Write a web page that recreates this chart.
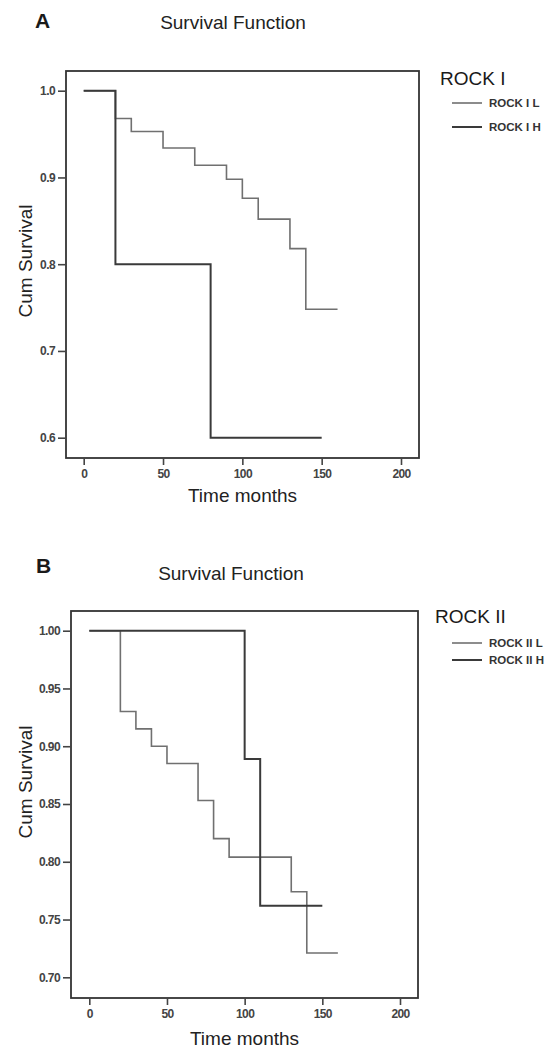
<!DOCTYPE html>
<html>
<head>
<meta charset="utf-8">
<script src="https://cdn.jsdelivr.net/npm/d3@7"></script>
<style>
	body { margin: 0; background: #fff; }
	text { font-family: Arial, 'Liberation Sans', sans-serif; }
</style>
</head>
<body>
<div id="chart"></div>
<script>
// Data

const xTicks = [0, 50, 100, 150, 200];

const rock1Ticks = [0.6, 0.7, 0.8, 0.9, 1.0];
const rock1LowTimes = [0, 20, 30, 50, 70, 90, 100, 110, 130, 140, 160];
const rock1LowSurv = [1.0, 0.968, 0.953, 0.934, 0.914, 0.898, 0.876, 0.852, 0.818, 0.748, 0.748];
const rock1HighTimes = [0, 20, 80, 150];
const rock1HighSurv = [1.0, 0.8, 0.6, 0.6];

const rock2Ticks = [0.7, 0.75, 0.8, 0.85, 0.9, 0.95, 1.0];
const rock2LowTimes = [0, 20, 30, 40, 50, 70, 80, 90, 130, 140, 160];
const rock2LowSurv = [1.0, 0.93, 0.915, 0.9, 0.885, 0.853, 0.82, 0.804, 0.774, 0.721, 0.721];
const rock2HighTimes = [0, 100, 110, 150];
const rock2HighSurv = [1.0, 0.889, 0.762, 0.762];

const svg = d3
	.select('#chart')
	.append('svg')
	.attr('width', 552)
	.attr('height', 1049);

const drawPanel = (p) => {
	// Measurements
	const frame = p.frame;

	// Scales
	const xscale = d3
		.scaleLinear()
		.domain([0, 200])
		.range([p.x0, p.x200]);

	const yscale = d3
		.scaleLinear()
		.domain(p.yDomain)
		.range(p.yRange);

	const g = svg.append('g');

	// Titles
	g.append('text')
		.attr('x', p.letterX)
		.attr('y', p.letterY)
		.attr('font-size', 21)
		.attr('font-weight', 'bold')
		.attr('fill', '#1a1a1a')
		.text(p.letter);

	g.append('text')
		.attr('x', p.titleX)
		.attr('y', p.titleY)
		.attr('text-anchor', 'middle')
		.attr('font-size', 19)
		.attr('fill', '#222')
		.text('Survival Function');

	// Frame
	g.append('rect')
		.attr('x', frame.left)
		.attr('y', frame.top)
		.attr('width', frame.right - frame.left)
		.attr('height', frame.bottom - frame.top)
		.attr('fill', 'none')
		.attr('stroke', '#333')
		.attr('stroke-width', 1.8);

	// Axis
	const leftAxis = d3
		.axisLeft(yscale)
		.tickValues(p.yTicks)
		.tickFormat(d3.format(p.yFormat))
		.tickSize(8)
		.tickPadding(3);

	const bottomAxis = d3
		.axisBottom(xscale)
		.tickValues(xTicks)
		.tickSize(7)
		.tickPadding(4);

	const ya = g
		.append('g')
		.attr('transform', `translate(${frame.left}, 0)`)
		.call(leftAxis);

	const xa = g
		.append('g')
		.attr('transform', `translate(0, ${frame.bottom})`)
		.call(bottomAxis);

	[ya, xa].forEach((a) => {
		a.select('.domain').remove();
		a.selectAll('line').attr('stroke', '#444').attr('stroke-width', 1.6);
		a.selectAll('text')
			.attr('font-size', 12)
			.attr('font-weight', 'bold')
			.attr('letter-spacing', -0.6)
			.attr('fill', '#444')
			.style('font-family', "Arial, 'Liberation Sans', sans-serif");
	});

	g.append('text')
		.attr('x', (frame.left + frame.right) / 2)
		.attr('y', p.xTitleY)
		.attr('text-anchor', 'middle')
		.attr('font-size', 19)
		.attr('fill', '#222')
		.text('Time months');

	g.append('text')
		.attr('transform', `translate(32, ${p.yTitleY}) rotate(-90)`)
		.attr('text-anchor', 'middle')
		.attr('font-size', 19)
		.attr('fill', '#222')
		.text('Cum Survival');

	// Lines
	const line = d3
		.line()
		.x((d) => xscale(d[0]))
		.y((d) => yscale(d[1]))
		.curve(d3.curveStepAfter);

	p.series.forEach((s) => {
		g.append('path')
			.datum(d3.zip(s.times, s.surv))
			.attr('d', line)
			.attr('fill', 'none')
			.attr('stroke', s.color)
			.attr('stroke-width', s.width);
	});

	// Legend
	g.append('text')
		.attr('x', p.legendX)
		.attr('y', p.legendY)
		.attr('font-size', 19)
		.attr('fill', '#1a1a1a')
		.text(p.legendTitle);

	p.series.forEach((s, i) => {
		const ly = p.legendY + p.legendFirst + i * p.legendStep;
		g.append('line')
			.attr('x1', 452)
			.attr('x2', 482)
			.attr('y1', ly)
			.attr('y2', ly)
			.attr('stroke', s.color)
			.attr('stroke-width', s.width);
		g.append('text')
			.attr('x', 489)
			.attr('y', ly + 4)
			.attr('font-size', 11.5)
			.attr('font-weight', 'bold')
			.attr('fill', '#333')
			.text(s.name);
	});
};

drawPanel({
	letter: 'A',
	letterX: 35,
	letterY: 28,
	titleX: 233,
	titleY: 29,
	frame: { left: 66, right: 419, top: 71, bottom: 458 },
	x0: 83.7,
	x200: 401,
	yDomain: [0.6, 1.0],
	yRange: [437.7, 90.7],
	yTicks: rock1Ticks,
	yFormat: '.1f',
	xTitleY: 502,
	yTitleY: 261,
	legendTitle: 'ROCK I',
	legendX: 440,
	legendY: 85,
	legendFirst: 18,
	legendStep: 24,
	series: [
		{ name: 'ROCK I L', times: rock1LowTimes, surv: rock1LowSurv, color: '#707070', width: 1.6 },
		{ name: 'ROCK I H', times: rock1HighTimes, surv: rock1HighSurv, color: '#3a3a3a', width: 2 },
	],
});

drawPanel({
	letter: 'B',
	letterX: 36,
	letterY: 573,
	titleX: 231,
	titleY: 580,
	frame: { left: 71, right: 418, top: 611, bottom: 998 },
	x0: 89.3,
	x200: 400,
	yDomain: [0.7, 1.0],
	yRange: [977.3, 630.7],
	yTicks: rock2Ticks,
	yFormat: '.2f',
	xTitleY: 1045,
	yTitleY: 782,
	legendTitle: 'ROCK II',
	legendX: 435,
	legendY: 623,
	legendFirst: 20,
	legendStep: 17,
	series: [
		{ name: 'ROCK II L', times: rock2LowTimes, surv: rock2LowSurv, color: '#707070', width: 1.6 },
		{ name: 'ROCK II H', times: rock2HighTimes, surv: rock2HighSurv, color: '#3a3a3a', width: 2 },
	],
});
</script>
</body>
</html>
